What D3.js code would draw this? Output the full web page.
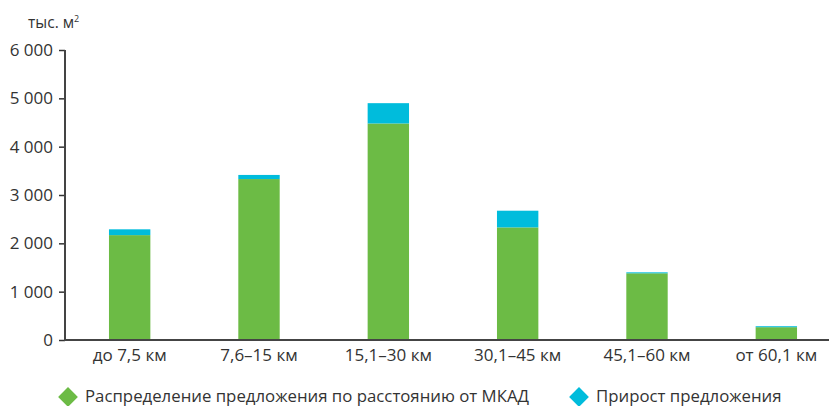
<!DOCTYPE html>
<html>
<head>
<meta charset="utf-8">
<script src="https://cdn.jsdelivr.net/npm/d3@7"></script>
<style>
  body { margin: 0; background: #fff; }
  text { font-family: "Open Sans", sans-serif; fill: #333; }
</style>
</head>
<body>
<div id="chart"></div>
<script>
// chart data
var categories = ["до 7,5 км", "7,6–15 км", "15,1–30 км", "30,1–45 км", "45,1–60 км", "от 60,1 км"];
var baseValues = [2170, 3330, 4480, 2330, 1380, 265];
var growthValues = [120, 85, 420, 345, 20, 20];
var yTicks = [0, 1000, 2000, 3000, 4000, 5000, 6000];
var seriesNames = ["Распределение предложения по расстоянию от МКАД", "Прирост предложения"];
var colors = ["#6cbb45", "#00bcdc"];

var svgWidth = 829;
var svgHeight = 406;

var svg = d3.select("#chart").append("svg")
    .attr("width", svgWidth)
    .attr("height", svgHeight);

var x = d3.scaleBand()
    .domain(categories)
    .range([65, 841])
    .paddingInner(0.68)
    .paddingOuter(0.34);

var y = d3.scaleLinear()
    .domain([0, 6000])
    .range([340, 50]);

var rows = categories.map(function (c, i) {
    return { cat: c, base: baseValues[i], growth: growthValues[i] };
});
var stacked = d3.stack().keys(["base", "growth"])(rows);

// bars
svg.selectAll("g.layer")
    .data(stacked)
    .enter()
    .append("g")
    .attr("class", "layer")
    .attr("fill", function (d, i) { return colors[i]; })
    .selectAll("rect")
    .data(function (d) { return d; })
    .enter()
    .append("rect")
    .attr("x", function (d) { return x(d.data.cat); })
    .attr("width", x.bandwidth())
    .attr("y", function (d) { return y(d[1]); })
    .attr("height", function (d) { return y(d[0]) - y(d[1]); });

// y axis
var leftAxis = d3.axisLeft(y)
    .tickValues(yTicks)
    .tickSize(6)
    .tickPadding(6)
    .tickFormat(function (d) { return d3.format(",")(d).replace(",", " "); });

var yAxisG = svg.append("g")
    .attr("transform", "translate(65,0)")
    .call(leftAxis);
yAxisG.select(".domain").remove();
yAxisG.selectAll(".tick line").attr("stroke", "#333").attr("stroke-width", 1.5);
yAxisG.selectAll(".tick text")
    .attr("font-size", "17px")
    .style("font-family", "Open Sans, sans-serif")
    .attr("fill", "#333");

// axis lines
svg.append("line")
    .attr("x1", 65).attr("x2", 65)
    .attr("y1", 50).attr("y2", 340)
    .attr("stroke", "#444").attr("stroke-width", 2);
svg.append("line")
    .attr("x1", 64).attr("x2", 829)
    .attr("y1", 340).attr("y2", 340)
    .attr("stroke", "#444").attr("stroke-width", 2);

// x labels
var bottomAxis = d3.axisBottom(x).tickSize(0).tickPadding(9);
var xAxisG = svg.append("g")
    .attr("transform", "translate(0,340)")
    .call(bottomAxis);
xAxisG.select(".domain").remove();
xAxisG.selectAll(".tick text")
    .attr("font-size", "17px")
    .style("font-family", "Open Sans, sans-serif")
    .attr("fill", "#333");

// unit label
var unit = svg.append("text")
    .attr("x", 28)
    .attr("y", 28)
    .attr("font-size", "15.5px");
unit.append("tspan").text("тыс. м");
unit.append("tspan").attr("dy", -6).attr("font-size", "9px").text("2");

// legend
var legendX = [68, 579];
var legend = svg.selectAll("g.legend")
    .data(seriesNames)
    .enter()
    .append("g")
    .attr("class", "legend")
    .attr("transform", function (d, i) { return "translate(" + legendX[i] + ",397)"; });

legend.append("rect")
    .attr("x", -7).attr("y", -7)
    .attr("width", 14).attr("height", 14)
    .attr("transform", "rotate(45)")
    .attr("fill", function (d, i) { return colors[i]; });

legend.append("text")
    .attr("x", 17)
    .attr("y", 5)
    .attr("font-size", "16.8px")
    .text(function (d) { return d; });
</script>
</body>
</html>
